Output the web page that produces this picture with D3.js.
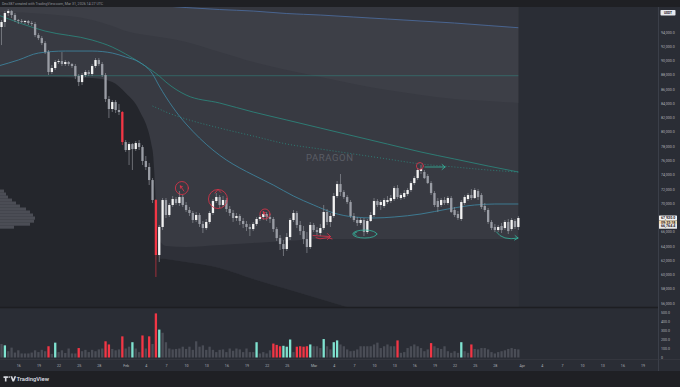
<!DOCTYPE html>
<html>
<head>
<meta charset="utf-8">
<script src="https://d3js.org/d3.v7.min.js"></script>
<style>
  body { margin: 0; background: #1f2024; }
  svg { display: block; font-family: Roboto, "Noto Sans", sans-serif; }
</style>
</head>
<body>
<svg id="chart" width="680" height="387"></svg>
<script>
// ---- data (BTC/USDT, 12h bars) ----
const firstBar = "2026-01-13T12:00:00Z";
const barHours = 12;

// [open, high, low, close]
const candles = [
[94700,95680,92170,95400],[95400,96940,94700,96660],[96660,97220,96240,96940],[96940,97080,95960,96380],[96380,96660,95400,95680],
[95680,95820,95120,95540],[95540,95820,95260,95400],[95400,95680,95120,95540],[95540,95680,94980,95260],[95260,95540,94840,95120],
[95120,95400,93290,93570],[93570,93850,92870,93150],[93150,93430,92170,92450],[92450,92730,90910,91190],[91190,91470,87970,88390],
[88390,89370,88110,88950],[88950,90070,88670,89790],[89790,90210,89510,89930],[89930,91190,89230,89510],[89510,90070,89230,89790],
[89790,89930,89230,89510],[89510,89650,88950,89230],[89230,89510,87400,87830],[87830,88110,86420,86980],[86980,88250,86560,87970],
[87970,88670,87690,88390],[88390,88670,87830,88110],[88110,89510,87830,89230],[89230,90350,88950,90070],[90070,90350,89230,89510],
[89510,89790,87690,87970],[87970,88250,84180,84600],[84600,85020,81940,83200],[83200,84460,82780,84180],[84180,84460,82640,83060],
[83060,83900,82360,82780],[82780,82920,78150,78570],[78570,78850,77170,77450],[77450,78570,75350,78290],[78290,78430,74650,77590],
[77590,78710,77310,78430],[78430,78850,77450,77870],[77870,78150,75350,75910],[75910,76610,74650,75070],[75070,75630,72540,73240],
[73240,73520,70020,70440],[70440,70580,59650,62730],[62730,66940,61750,66660],[66660,70720,66230,70440],[70440,70720,67920,68340],
[68340,70020,68060,69740],[69740,71000,69460,70580],[70580,70860,69740,70020],[70020,71700,69600,70860],[70860,71140,69460,69740],
[69740,70160,68760,69040],[69040,69460,68200,68620],[68620,68900,67220,67640],[67640,68760,67360,68340],[68340,68620,66660,67080],
[67080,67500,65810,66510],[66510,67780,66230,67360],[67360,68900,67080,68620],[68620,70580,68340,70300],[70300,71420,70020,70860],
[70860,71140,69320,69740],[69740,71000,69460,70440],[70440,70720,68760,69180],[69180,69600,68200,68620],[68620,69040,67360,67920],
[67920,68620,67500,68200],[68200,68480,66940,67500],[67500,67920,66510,67080],[67080,67500,66090,66660],[66660,67080,65390,66370],
[66370,67360,66090,67080],[67080,68060,66800,67780],[67780,68340,67500,68060],[68060,68900,67640,68480],[68480,68760,67500,68060],
[68060,68480,67220,67780],[67780,68060,65950,66370],[66370,66660,64690,65110],[65110,65530,63430,64270],[64270,64830,62590,63570],
[63570,65810,63290,65250],[65250,67920,64830,67640],[67640,69040,67360,68620],[68620,68900,66510,66940],[66940,67500,65530,66090],
[66090,66800,64270,64970],[64970,65950,63010,63850],[63850,67360,63570,66940],[66940,67220,65950,66230],[66230,66660,65530,65950],
[65810,67080,65390,66510],[66510,69740,66230,68760],[68760,69180,66940,67360],[67360,68620,66660,68200],[68200,71420,67920,71000],
[71000,73100,70720,72680],[72680,74090,71000,71560],[71560,71840,70580,70860],[70860,71140,69880,70160],[70160,70440,67920,68200],
[68200,68620,67360,67640],[67640,68060,66800,67220],[67220,67920,66940,67640],[67640,67920,65390,65950],[65950,67780,65670,67500],
[67500,68760,67360,68340],[68340,70720,68060,70300],[70300,70580,69460,69740],[69740,70440,69040,70160],[69600,70720,69320,70440],
[70160,71000,69880,70440],[70300,71140,70020,70720],[70580,72400,70300,72120],[72120,72540,70580,70860],[70720,71420,70440,71140],
[70860,71840,70580,71420],[71280,72120,71000,71840],[71840,73100,71560,72820],[72820,73810,72540,73520],[73520,74930,73240,74650],
[74510,75350,74090,74790],[74370,74650,73380,73520],[73810,74090,72680,72820],[72820,73100,71140,71420],[71420,71700,69460,69740],
[70300,70720,68760,69460],[69740,70720,69460,70440],[70440,70860,69740,70020],[70020,71000,69740,70720],[70720,71000,68620,68760],
[69040,69460,68060,68340],[68480,68900,67640,67920],[67780,70440,67500,70160],[70020,71140,69740,70860],[70580,71420,70300,71140],
[71140,71980,70440,70720],[70720,72120,70580,71840],[71700,71980,70440,70860],[71140,71420,69180,69460],[69600,70020,68760,69040],
[69040,69320,67080,67360],[67360,67640,66230,66510],[66660,67080,65950,66230],[66230,66940,65950,66660],[66800,67220,65810,66230],
[66510,67640,66230,67360],[67360,67780,65670,66090],[66370,67920,66090,67640],[67500,67780,66370,66660],[66660,68200,66230,67920]
];
// bars the chart paints red
const redBars = [36, 46];

const volumes = [
150,135,70,110,55,80,45,45,45,55, 80,60,85,70,125,40,165,60,80,50,
100,45,45,105,70,85,60,85,70,90, 100,180,145,95,80,90,235,100,120,170,
100,60,245,100,235,150,490,310,275,170, 100,90,95,100,120,95,120,85,180,120,
135,85,120,85,60,85,90,60,100,75, 100,90,60,100,60,60,170,45,60,45,
80,155,140,125,130,120,200,60,120,125, 120,125,145,125,125,105,205,125,90,170,
190,145,125,90,70,75,90,125,125,125, 125,145,165,105,125,145,125,125,190,52,
60,105,125,145,125,105,70,90,160,125, 105,95,125,70,52,70,52,170,70,52,
145,95,90,105,105,90,60,45,60,70, 80,95,105,95,90
];
// g = normal, r = heavy selling, t = heavy buying
const volumeKind = ("gtgggggggg" + "ggggrgtggg" + "gggrgggggg" + "grrgggrggt" + "ggrgrgrtgg" +
  "gggggggggg" + "gggggggggg" + "ggggggtggg" + "grrrtttgrr" + "rrtgggtggt" +
  "tggggggggg" + "ggggggggrg" + "ggggggggrg" + "gggggggtgg" + "rggggggggg" + "ggggg").split("");

// band curves of the overlay indicator
const bandDates = ["2026-01-13","2026-01-20","2026-01-27","2026-01-30","2026-02-01","2026-02-03","2026-02-05",
  "2026-02-06","2026-02-07","2026-02-10","2026-02-15","2026-02-20","2026-02-25","2026-03-02","2026-03-07",
  "2026-03-12","2026-03-17","2026-03-22","2026-03-27","2026-03-31T12:00"];
const upper3 = [99180,98760,98340,98200,98060,97920,97780,97710,97640,97430,97150,96940,96590,96380,96100,95820,95540,95260,94910,94600];
const upper2 = [96800,96520,95680,94840,94130,93710,93430,93290,93150,92590,91190,89790,88670,87690,86700,85860,85160,84600,84320,84040];
const upper1 = [96380,94130,92870,91890,90910,89790,88530,87830,86980,85160,84040,82780,81660,80530,79410,78290,77170,76190,75210,74370];
const lower1 = [87690,87690,87540,86980,85440,83060,77450,64830,63990,63850,64130,64410,64690,64970,64970,64970,64970,64970,64970,64970];
const lower2 = [87690,87690,87540,86980,85440,83060,77450,62310,62170,61750,60910,59360,57960,56560,55160,53900,52770,51790,50950,50250];

const midDates = ["2026-02-05","2026-02-06","2026-02-07","2026-02-10","2026-02-15","2026-02-20","2026-02-25","2026-03-02",
  "2026-03-07","2026-03-12","2026-03-17","2026-03-22","2026-03-27","2026-03-31T12:00"];
const midLine = [83620,83200,82780,81800,80530,79410,78290,77590,76890,76190,75490,75070,74650,74370];

const vwapDates = ["2026-01-13","2026-01-16","2026-01-19","2026-01-23","2026-01-27","2026-01-30","2026-02-01","2026-02-03",
  "2026-02-05","2026-02-06","2026-02-07","2026-02-08","2026-02-09","2026-02-10","2026-02-12","2026-02-14","2026-02-16",
  "2026-02-18","2026-02-20","2026-02-23","2026-02-26","2026-03-01","2026-03-04","2026-03-07","2026-03-10","2026-03-13",
  "2026-03-17","2026-03-21","2026-03-25","2026-03-28","2026-03-31T12:00"];
const vwap = [89230,90070,91050,91330,91330,91050,90490,89790,88110,86420,84880,83480,82220,81100,79130,77450,76050,
  74930,73950,72540,71000,69740,68620,68060,67920,68060,68480,69180,69740,69880,69880];

const levelPrice = 87870;

// visible range volume profile on the left
const profilePrices = [71700,71280,70860,70440,70020,69600,69180,68760,68340,67920,67500,67080,66660];
const profileVolume = [4,6,8,12,16,20,26,30,33,35,34,30,14];

// hand drawn marks
const redRings = [["2026-02-09T09:00Z",72120],["2026-02-14T18:00Z",70580],["2026-02-21T18:00Z",68480],["2026-03-16T20:00Z",75210]];
const redArrow = [["2026-02-28T22:00Z",65320],["2026-03-03T12:00Z",65320]];
const tealArrow = [["2026-03-17T14:00Z",75070],["2026-03-20T14:00Z",75070]];
const tealRing = ["2026-03-08T15:00Z",65670];
const tealHook = [["2026-03-28T06:00Z",65390],["2026-03-31T11:00Z",65110]];
const watermark = ["2026-03-03T10:00Z",76330];

const priceTicks = [56000,58000,60000,62000,64000,66000,70000,72000,74000,76000,78000,80000,82000,84000,86000,88000,90000,92000,94000];
const volumeTicks = [0,100,200,300,400,500];
const timeTicks = ["2026-01-16","2026-01-19","2026-01-22","2026-01-25","2026-01-28","2026-02-01","2026-02-04","2026-02-07",
  "2026-02-10","2026-02-13","2026-02-16","2026-02-19","2026-02-22","2026-02-25","2026-03-01","2026-03-04","2026-03-07",
  "2026-03-10","2026-03-13","2026-03-16","2026-03-19","2026-03-22","2026-03-25","2026-03-28","2026-04-01","2026-04-04",
  "2026-04-07","2026-04-10","2026-04-13","2026-04-16","2026-04-19"];

const lastPrice = 67920, lastLabel = "67,920.0", countdown = "09:32:18", lowLabelPrice = 66764.4;

// ---- layout ----
const svg = d3.select("#chart");
const paneTop = 7, paneBottom = 307, volBottom = 359, axisRight = 658, footerTop = 371;
const parse = s => new Date(s.length <= 10 ? s + "T00:00:00Z" : (s.endsWith("Z") ? s : s + ":00Z"));
const t0 = new Date(firstBar).getTime();
const barTime = i => new Date(t0 + i * barHours * 3600e3);

const x = d3.scaleUtc().domain([parse("2026-01-16"), parse("2026-04-01")]).range([18.3, 521.7]);
const y = d3.scaleLinear().domain([56000, 94000]).range([303, 32]);
const yv = d3.scaleLinear().domain([0, 500]).range([357.5, 312.5]);
const xp = d3.scaleLinear().domain([0, 35]).range([0, 35]);

// backgrounds
svg.append("rect").attr("width", 680).attr("height", 387).attr("fill", "#1f2024");
svg.append("rect").attr("y", paneTop).attr("width", 680).attr("height", footerTop - paneTop).attr("fill", "#2a2d35");

const defs = svg.append("defs");
defs.append("clipPath").attr("id", "pane").append("rect")
  .attr("x", 0).attr("y", paneTop).attr("width", axisRight).attr("height", paneBottom - paneTop);

const main = svg.append("g").attr("clip-path", "url(#pane)");
const bd = bandDates.map(parse);
const lastX = x(bd[bd.length - 1]);

function band(top, bottom, color) {
  const a = d3.area().curve(d3.curveMonotoneX)
    .x((d, i) => x(bd[i]))
    .y0((d, i) => bottom ? y(bottom[i]) : paneBottom + 40)
    .y1((d, i) => top ? y(top[i]) : paneTop - 40);
  main.append("path").datum(bd).attr("d", a).attr("fill", color);
}
// painted from the outside in
band(null, null, "#383a42");
band(null, upper3, "#35373f");
band(upper3, upper2, "#3d3f47");
band(lower1, lower2, "#2e3038");
band(lower2, null, "#24262c");

// horizontal level
main.append("line").attr("x1", 0).attr("x2", lastX).attr("y1", y(levelPrice)).attr("y2", y(levelPrice))
  .attr("stroke", "#2f8f86").attr("stroke-opacity", 0.7).attr("stroke-width", 0.7);

// volume profile
const bh = Math.abs(y(profilePrices[0]) - y(profilePrices[1]));
main.selectAll("rect.vp").data(profilePrices).join("rect").attr("class", "vp")
  .attr("x", 0).attr("y", d => y(d) - bh / 2).attr("height", bh + 0.2)
  .attr("width", (d, i) => xp(profileVolume[i])).attr("fill", "#4b4d55");

// indicator lines
function line(dates, vals, color, width, dash) {
  const l = d3.line().curve(d3.curveMonotoneX).x((d, i) => x(parse(dates[i]))).y(d => y(d));
  main.append("path").datum(vals).attr("d", l).attr("fill", "none")
    .attr("stroke", color).attr("stroke-width", width).attr("stroke-dasharray", dash || null);
}
line(bandDates, upper3, "#4d6fa3", 0.8);
line(bandDates, upper1, "#2b8c80", 0.8);
line(midDates, midLine, "#2b8c80", 0.8, "1,2");
line(vwapDates, vwap, "#3f8aa6", 0.8);

// watermark
main.append("text").attr("x", x(parse(watermark[0]))).attr("y", y(watermark[1])).attr("dy", "0.35em")
  .attr("text-anchor", "middle").attr("font-size", 9.5).attr("letter-spacing", 0.6)
  .attr("fill", "#5a5d65").text("PARAGON");

// candles
const bw = 2.3;
const candleColor = (d, i) => redBars.includes(i) ? "#f23645" : (d[3] >= d[0] ? "#f2f2f2" : "#9a9da5");
const cg = main.append("g");
cg.selectAll("line").data(candles).join("line")
  .attr("x1", (d, i) => x(barTime(i))).attr("x2", (d, i) => x(barTime(i)))
  .attr("y1", d => y(d[1])).attr("y2", d => y(d[2]))
  .attr("stroke", (d, i) => redBars.includes(i) ? "#f23645" : "#9a9da5").attr("stroke-width", 0.6);
cg.selectAll("rect").data(candles).join("rect")
  .attr("x", (d, i) => x(barTime(i)) - bw / 2).attr("width", bw)
  .attr("y", d => y(Math.max(d[0], d[3])))
  .attr("height", d => Math.max(0.7, Math.abs(y(d[0]) - y(d[3]))))
  .attr("fill", candleColor);

// hand drawn marks
const red = "#e3344a", teal = "#35b8a0";
const ann = main.append("g").attr("fill", "none").attr("stroke-width", 0.8).attr("stroke-linecap", "round");
const ringR = [6.5, 9.5, 5, 3.5];
redRings.forEach((r, i) => {
  const cx = x(parse(r[0])), cy = y(r[1]);
  ann.append("circle").attr("cx", cx).attr("cy", cy).attr("r", ringR[i]).attr("stroke", red);
});
{ // little arrows inside the first and third rings
  const a = [redRings[0], redRings[2]];
  a.forEach(r => {
    const cx = x(parse(r[0])), cy = y(r[1]);
    ann.append("path").attr("stroke", red)
      .attr("d", `M${cx + 2},${cy + 3}L${cx - 1.5},${cy - 2}M${cx - 1.5},${cy - 2}l0,2.2M${cx - 1.5},${cy - 2}l2,0.6`);
  });
  const cx = x(parse(redRings[1][0])), cy = y(redRings[1][1]);
  ann.append("path").attr("stroke", red).attr("d", `M${cx - 3},${cy - 6}L${cx},${cy - 9.5}L${cx + 3},${cy - 6.5}`);
}
{
  const x0 = x(parse(redArrow[0][0])), x1 = x(parse(redArrow[1][0])), yy = y(redArrow[0][1]);
  ann.append("path").attr("stroke", red)
    .attr("d", `M${x0},${yy - 1}L${x1},${yy}M${x0 + 3},${yy + 1.2}q4,2 8,0.5t8,0.6M${x1 - 3},${yy - 3}L${x1},${yy}L${x1 - 3},${yy + 3}`);
}
{
  const x0 = x(parse(tealArrow[0][0])), x1 = x(parse(tealArrow[1][0])), yy = y(tealArrow[0][1]);
  ann.append("path").attr("stroke", teal)
    .attr("d", `M${x0},${yy}L${x1},${yy}M${x1 - 3},${yy - 2.5}L${x1},${yy}L${x1 - 3},${yy + 2.5}`);
}
{
  const cx = x(parse(tealRing[0])), cy = y(tealRing[1]);
  ann.append("ellipse").attr("cx", cx).attr("cy", cy).attr("rx", 12).attr("ry", 4).attr("stroke", teal);
  ann.append("path").attr("stroke", teal).attr("d", `M${cx - 8},${cy - 2}l-3,1.5l2.5,2`);
}
{
  const x0 = x(parse(tealHook[0][0])), x1 = x(parse(tealHook[1][0]));
  const y0 = y(tealHook[0][1]), y1 = y(tealHook[1][1]);
  ann.append("path").attr("stroke", teal)
    .attr("d", `M${x0},${y0 - 4}Q${x0 + 6},${y0 + 5} ${x1},${y1}M${x1 - 3},${y1 - 2.5}L${x1},${y1}L${x1 - 3.5},${y1 + 2}`);
}

// pane separators
svg.append("line").attr("x1", 0).attr("x2", axisRight).attr("y1", paneBottom + 0.5).attr("y2", paneBottom + 0.5)
  .attr("stroke", "#1d1e22").attr("stroke-width", 1.4);
svg.append("line").attr("x1", axisRight + 0.5).attr("x2", axisRight + 0.5).attr("y1", paneTop).attr("y2", footerTop)
  .attr("stroke", "#444751").attr("stroke-width", 0.7);
svg.append("line").attr("x1", 0).attr("x2", 680).attr("y1", volBottom + 0.5).attr("y2", volBottom + 0.5)
  .attr("stroke", "#3a3d45").attr("stroke-width", 0.6);

// volume
const volColor = { g: "#4a4d56", r: "#f23645", t: "#7fe3d0" };
svg.append("g").selectAll("rect").data(volumes).join("rect")
  .attr("x", (d, i) => x(barTime(i)) - bw / 2).attr("width", bw)
  .attr("y", d => yv(d)).attr("height", d => yv(0) - yv(d))
  .attr("fill", (d, i) => volColor[volumeKind[i]]);

// axes
const axisText = "#aeb1b9", fs = 3.6;
const yAxis = svg.append("g").attr("transform", `translate(${axisRight + 3},0)`)
  .call(d3.axisRight(y).tickValues(priceTicks).tickFormat(d3.format(",.1f")).tickSize(0).tickPadding(0));
const vAxis = svg.append("g").attr("transform", `translate(${axisRight + 3},0)`)
  .call(d3.axisRight(yv).tickValues(volumeTicks).tickFormat(d => d === 0 ? "0" : d3.format(".1f")(d)).tickSize(0).tickPadding(0));
const xAxis = svg.append("g").attr("transform", `translate(0,${volBottom + 5.5})`)
  .call(d3.axisBottom(x).tickValues(timeTicks.map(parse))
    .tickFormat(d => d.getUTCDate() === 1 ? d3.utcFormat("%b")(d) : d.getUTCDate()).tickSize(0).tickPadding(0));
[yAxis, vAxis, xAxis].forEach(g => {
  g.select(".domain").remove();
  g.selectAll("text").attr("fill", axisText).attr("font-size", fs).attr("font-family", "Roboto, sans-serif");
});

// currency tag
svg.append("rect").attr("x", 660.5).attr("y", 10).attr("width", 15).attr("height", 5.5).attr("rx", 0.8).attr("fill", "#e6e8ee");
svg.append("text").attr("x", 668).attr("y", 12.8).attr("dy", "0.35em").attr("text-anchor", "middle")
  .attr("font-size", 3.2).attr("font-weight", 700).attr("fill", "#1f2024").text("USDT");

// last price tags
function tag(py, txt, bg, fg) {
  svg.append("rect").attr("x", axisRight + 1).attr("y", py - 2.6).attr("width", 18).attr("height", 5.2).attr("rx", 0.6).attr("fill", bg);
  svg.append("text").attr("x", axisRight + 3).attr("y", py).attr("dy", "0.35em").attr("font-size", fs)
    .attr("font-weight", 700).attr("fill", fg).text(txt);
}
const ly = y(lastPrice);
tag(ly, lastLabel, "#f3f3f3", "#1f2024");
tag(ly + 5, countdown, "#f3dcb0", "#1f2024");
tag(y(lowLabelPrice), d3.format(",.1f")(lowLabelPrice), "#e8e8e8", "#1f2024");

// header and footer
svg.append("text").attr("x", 2).attr("y", 4.6).attr("font-size", 3.6).attr("fill", "#8f929a")
  .text("Dec387 created with TradingView.com, Mar 31, 2026 14:27 UTC");
const logo = svg.append("g").attr("fill", "#d8dae0");
logo.append("path").attr("d", "M3.5,376.2h4.4v1.7h-1.4v3.5h-1.6v-3.5h-1.4z");
logo.append("circle").attr("cx", 9.2).attr("cy", 377).attr("r", 0.85);
logo.append("path").attr("d", "M10.4,376.2h1.8l1.1,3l1.1,-3h1.8l-2.1,5.2h-1.6z");
svg.append("text").attr("x", 16.5).attr("y", 381.2).attr("font-size", 5.8).attr("font-weight", 600)
  .attr("fill", "#d8dae0").text("TradingView");
</script>
</body>
</html>
